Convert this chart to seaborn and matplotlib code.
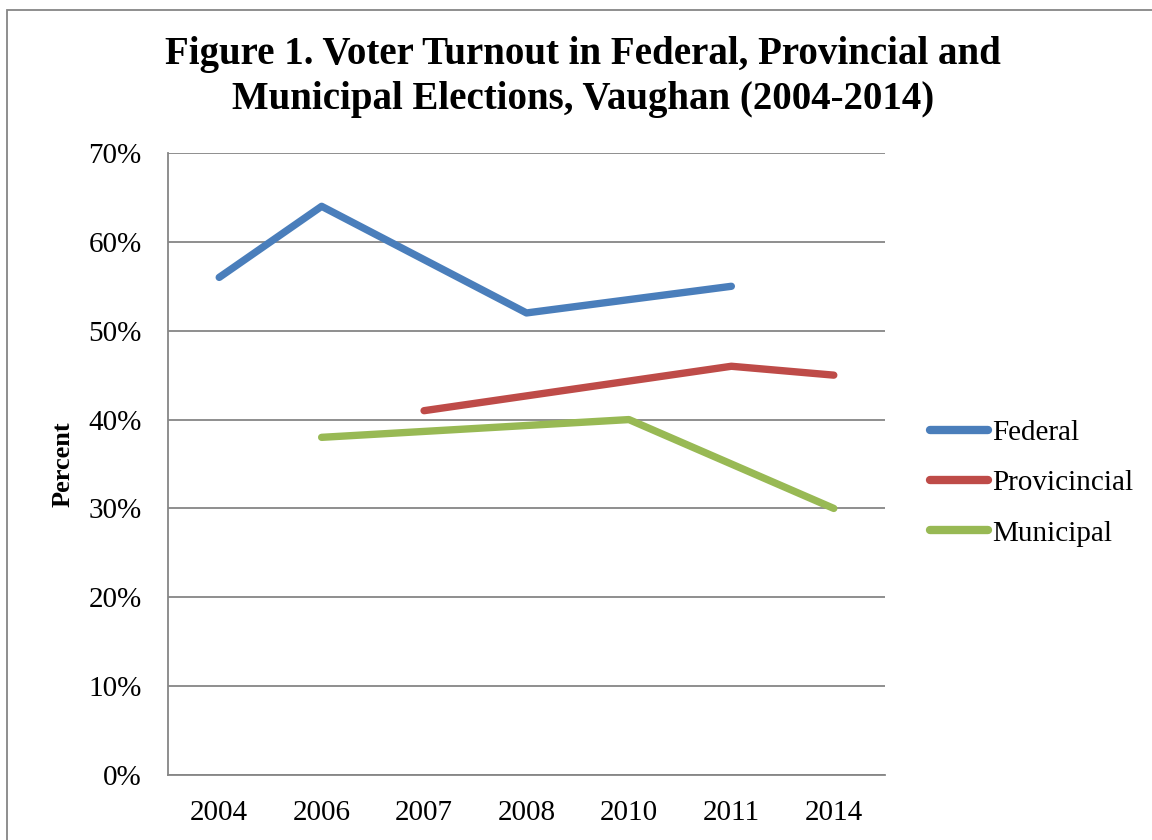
import matplotlib
matplotlib.use("Agg")
import matplotlib.pyplot as plt
import seaborn as sns
import pandas as pd
import numpy as np
from matplotlib.patches import Rectangle

# Chart data (turnout in %, NaN where no election that year)
years = ['2004', '2006', '2007', '2008', '2010', '2011', '2014']
federal = [56, 64, np.nan, 52, np.nan, 55, np.nan]
provincial = [np.nan, np.nan, 41, np.nan, np.nan, 46, 45]
municipal = [np.nan, 38, np.nan, np.nan, 40, np.nan, 30]
series_names = ['Federal', 'Provicincial', 'Municipal']
y_ticks = [0, 10, 20, 30, 40, 50, 60, 70]

colors = ['#4A7EBB', '#BE4B48', '#98B954']

# Long-form table, gaps dropped so the lines connect across missing years
rows = []
for name, vals in zip(series_names, [federal, provincial, municipal]):
    for i, v in enumerate(vals):
        if not np.isnan(v):
            rows.append({'pos': i, 'value': v / 100.0, 'series': name})
df = pd.DataFrame(rows)

sns.set_theme(style='white')
plt.rcParams['font.family'] = ['Liberation Serif', 'DejaVu Serif']
plt.rcParams['text.color'] = 'black'
plt.rcParams['xtick.color'] = 'black'
plt.rcParams['ytick.color'] = 'black'
plt.rcParams['axes.labelcolor'] = 'black'

fig = plt.figure(figsize=(11.52, 8.4), dpi=100)
ax = fig.add_axes([168 / 1152, 65 / 840, 717 / 1152, 622 / 840])

sns.lineplot(data=df, x='pos', y='value', hue='series', palette=colors,
             hue_order=series_names, linewidth=5.3, ax=ax, sort=True,
             solid_capstyle='round', solid_joinstyle='round')

ax.set_xlim(-0.5, len(years) - 0.5)
ax.set_ylim(0, 0.7)
ax.set_xticks(range(len(years)))
ax.set_xticklabels(years, fontsize=21)
ax.set_yticks([t / 100 for t in y_ticks])
ax.set_yticklabels([f'{t}%' for t in y_ticks], fontsize=21)
ax.tick_params(axis='x', length=0, pad=18)
ax.tick_params(axis='y', length=0, pad=19)
ax.yaxis.grid(True, color='#868686', linewidth=1.3)
ax.set_axisbelow(True)
for side in ['top', 'right']:
    ax.spines[side].set_visible(False)
for side in ['left', 'bottom']:
    ax.spines[side].set_color('#868686')
    ax.spines[side].set_linewidth(1.3)
ax.set_xlabel('')
ax.set_ylabel('Percent', fontsize=19, fontweight='bold', labelpad=10)

leg = ax.legend(loc='center left', bbox_to_anchor=(918 / 1152, 1 - 483 / 840),
                bbox_transform=fig.transFigure, frameon=False, fontsize=21,
                handlelength=2.0, handletextpad=0.15, labelspacing=0.82,
                borderaxespad=0)
for line in leg.get_lines():
    line.set_linewidth(6)
    line.set_solid_capstyle('round')

fig.text(0.506, 1 - 77 / 840, 'Figure 1. Voter Turnout in Federal, Provincial and\nMunicipal Elections, Vaughan (2004-2014)',
         ha='center', va='center', fontsize=28, fontweight='bold', linespacing=1.32)

# Outer chart border (only top and left edges fall inside the image)
fig.patches.append(Rectangle((7 / 1152, -0.1), 1.2, (830 / 840) + 0.1,
                             transform=fig.transFigure, fill=False,
                             edgecolor='#868686', linewidth=1.3))

fig.savefig('out.png', dpi=100)
